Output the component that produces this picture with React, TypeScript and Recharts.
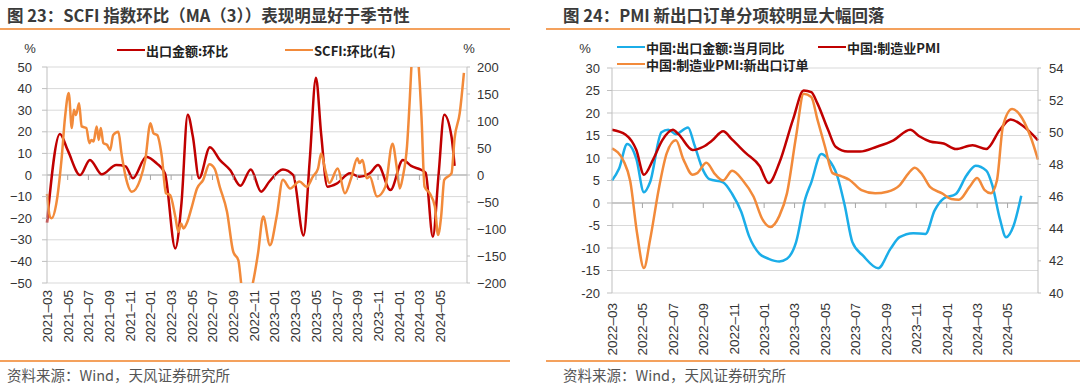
import React from "react";
import { CartesianGrid, Line, LineChart, ReferenceDot, ReferenceLine, XAxis, YAxis } from "recharts";

const RED = "#C00000";
const ORANGE = "#F28A3A";
const BLUE = "#1BADE8";
const RULE = "#F4A15D";
const GRID = "#D9D9D9";
const AXIS = "#BFBFBF";
const cjk = "'Noto Sans CJK SC', sans-serif";
const latin = "'Liberation Sans', Arial, sans-serif";

// ---- 图 23 (x = months since 2021-03) ----
const scfiTickLabels = [
  "2021-03", "2021-05", "2021-07", "2021-09", "2021-11", "2022-01", "2022-03", "2022-05",
  "2022-07", "2022-09", "2022-11", "2023-01", "2023-03", "2023-05", "2023-07", "2023-09",
  "2023-11", "2024-01", "2024-03", "2024-05",
];
const exportMomT = [
  0, 1.25, 2, 3.2, 4.15, 5.3, 6.7, 7.6, 8.3, 9.6, 10.6, 11.4, 12.4, 13, 13.6, 14.1, 14.7, 15.75,
  16.7, 17.7, 18.7, 19.7, 20.7, 21.5, 22.8, 23.8, 24.8, 25.4, 26, 26.5, 27.1, 28, 29.3, 30.2,
  31.2, 32, 33.2, 34.4, 35.2, 36.2, 36.6, 37.3, 37.85, 38.4, 39.1, 39.4,
];
const exportMom = [
  -22, 19, 11.5, 0, 7, 0.3, 4.6, 4, -1.5, 8.5, 5.4, 0.8, -34, -13, 27.9, 17.8, -1.5, 12.8,
  7, 2.3, -5, 2.6, -7.7, -3, 2.6, 0, -28, 7, 45, 19, -5.4, -4, 0.8, -0.8,
  0.8, 4.6, -7, 7, 4.2, 2.3, 1, -28.6, 0, 27.9, 17.8, 4.2,
];
const scfiMomT = [
  0, 0.3, 0.45, 0.9, 1.4, 1.75, 2.1, 2.4, 2.6, 2.8, 3.1, 3.35, 3.8, 4.1, 4.3, 4.5, 4.8, 5, 5.2,
  5.45, 5.8, 6.1, 6.4, 6.9, 7.2, 7.6, 8.2, 9, 9.5, 10, 10.3, 10.65, 11.1, 11.5, 11.9, 12.4, 12.7,
  12.95, 13.2, 13.5, 14, 14.5, 15.1, 15.7, 16.2, 16.7, 17.4, 18, 18.5, 18.8, 19.3, 19.9, 20.4,
  20.9, 21.55, 22.2, 22.8, 23.5, 24.4, 25.1, 25.7, 26.2, 26.5, 26.9, 27.3, 28.1, 28.8, 29.4, 30,
  30.2, 30.5, 30.9, 31.2, 31.9, 32.7, 33.4, 33.8, 34.1, 34.4, 34.8, 35.1, 35.25, 35.55, 35.9,
  36.2, 36.5, 37, 37.5, 37.8, 38.1, 38.4, 39.1, 39.4, 39.9, 40.3,
];
const scfiMom = [
  -35, -78, -80, -53, 28, 108, 152, 87, 121, 111, 133, 90, 87, 59, 65, 62, 90, 65, 87,
  59, 56, 46, 74, 80, 40, -3, -31, -9, 28, 96, 77, 74, 34, -34, -37, -77, -105,
  -90, -99, -90, -59, -25, -9, 20, 12, -22, -68, -142, -158, -205, -240, -200, -145,
  -77, -130, -77, -9, -25, -12, -22, -3, 12, 40, 9, -15, 12, -34, -6, 31,
  22, 28, -6, -3, -40, -22, 58, 15, -25, -3, 53, 152, 210, 270, 210,
  108, -22, -34, -59, -111, -77, -9, 3, 68, 115, 189,
];

// ---- 图 24 (x = months since 2022-03) ----
const pmiTickLabels = [
  "2022-03", "2022-05", "2022-07", "2022-09", "2022-11", "2023-01", "2023-03",
  "2023-05", "2023-07", "2023-09", "2023-11", "2024-01", "2024-03", "2024-05",
];
const exportYoyT = [
  0, 0.46, 1, 1.6, 2.1, 2.5, 3.25, 3.7, 4.2, 5, 5.4, 6, 6.4, 7.3, 7.9, 8.5, 9, 9.7, 10.3, 11,
  11.5, 12.1, 12.7, 13.1, 13.75, 14.2, 14.8, 15.3, 15.8, 16.5, 17.5, 18.3, 18.9, 19.8, 20.6,
  21.2, 21.8, 22.6, 23.3, 23.9, 24.6, 25, 25.5, 25.9, 26.4, 26.9,
];
const exportYoy = [
  5, 7.6, 13.1, 9.8, 2.4, 4.6, 15.7, 16.3, 15.3, 16.8, 13.1, 7.2, 5.3, 4.6, 2, -2, -7.3, -11.3, -12.4, -13,
  -12.4, -8.7, 0.9, 4.6, 10.9, 9.8, 6.1, -0.6, -8.7, -11.7, -14.5, -10.2, -7.6, -6.7, -6.9,
  -1.7, 1, 2, 6.1, 8.3, 7.2, 3.9, -3.6, -7.6, -5, 1.6,
];
const pmiT = [
  0, 0.9, 1.6, 2.1, 2.7, 3.3, 4, 4.4, 5.3, 6, 6.6, 7.3, 7.9, 8.8, 9.7, 10.3, 11, 11.9, 12.6,
  13.1, 13.5, 14.2, 14.7, 15.5, 16.3, 17.4, 18.5, 19.6, 20.2, 20.9, 21.8, 22.6, 23.7, 24.6,
  25.5, 26.2, 27, 28,
];
const pmi = [
  50.16, 49.85, 48.9, 47.36, 48.3, 49.5, 50.16, 49.85, 48.9, 49.1, 49.5, 50.06, 49.54, 48.7, 47.9, 46.84, 48.1, 50.8, 52.6,
  52.5, 51.8, 50.16, 49.1, 48.8, 48.8, 49.1, 49.5, 50.16, 49.75, 49.43, 49.3, 48.96, 49.2, 48.96,
  50.16, 50.8, 50.4, 49.5,
];
const newExportT = [
  0, 0.77, 1.2, 1.65, 2.1, 2.5, 3.1, 3.6, 4.2, 4.7, 5.3, 5.6, 6.2, 6.8, 7.3, 7.9, 8.6, 9.3, 9.9,
  10.4, 11, 11.5, 12.1, 12.6, 13.1, 13.5, 14, 14.5, 15.1, 15.6, 16.4, 17.3, 18.1, 18.9, 19.5,
  19.9, 20.4, 20.9, 21.7, 22.3, 22.8, 23.5, 24, 24.5, 24.9, 25.3, 25.7, 26.3, 26.8, 27.5, 28,
];
const newExport = [
  49, 48.2, 46.95, 43.7, 41.55, 43.3, 46.6, 48.7, 49.5, 48.3, 47.36, 47.46, 48.1, 47.36, 47, 47.6, 47, 46, 44.56,
  44.1, 44.8, 46.2, 49.75, 52.4, 52.2, 50.8, 49.1, 47.46, 47.26, 47.05, 46.4, 46.2, 46.3, 46.7, 47.46,
  47.8, 47.36, 46.6, 46.2, 45.85, 45.8, 46.6, 47.15, 46.4, 46.2, 47, 50.4, 51.45, 51.1, 49.75, 48.3,
];

const zip = (t: number[], v: number[]) => t.map((x, i) => ({ t: x, v: v[i] }));
const range = (a: number, b: number, s: number) => {
  const out: number[] = [];
  for (let x = a; x <= b + 1e-9; x += s) out.push(Math.round(x * 100) / 100);
  return out;
};

function MonthTick(props: any) {
  const { x, y, payload, labels } = props;
  const label: string = labels[Math.round(payload.value / 2)] ?? "";
  return (
    <text
      x={x}
      y={y}
      transform={`rotate(-90 ${x} ${y})`}
      textAnchor="end"
      dy="0.36em"
      fill="#333"
      fontSize={13.5}
      fontFamily={latin}
    >
      {label.replace("-", "–")}
    </text>
  );
}

const zeroTick = (p: any) => (
  <line x1={p.cx} y1={p.cy} x2={p.cx} y2={p.cy + 5} stroke="#A6A6A6" strokeWidth={1} />
);

function LegendItem({ x, y, color, text }: { x: number; y: number; color: string; text: string }) {
  return (
    <div style={{ position: "absolute", left: x, top: y - 10, height: 20, display: "flex", alignItems: "center" }}>
      <div style={{ width: 28, height: 2.5, background: color }} />
      <span style={{ fontFamily: cjk, fontSize: 13, fontWeight: 700, color: "#222", marginLeft: 1, whiteSpace: "nowrap" }}>
        {text}
      </span>
    </div>
  );
}

function Frame({ x, w, title }: { x: number; w: number; title: string }) {
  return (
    <>
      <div
        style={{
          position: "absolute", left: x + 7, top: 4, fontFamily: cjk, fontSize: 16.5,
          fontWeight: 700, color: "#3A3A3A", whiteSpace: "nowrap", lineHeight: "22px",
        }}
      >
        {title}
      </div>
      <div style={{ position: "absolute", left: x - 10, top: 28, width: w, height: 1.5, background: RULE }} />
      <div style={{ position: "absolute", left: x - 10, top: 360, width: w, height: 1.5, background: RULE }} />
      <div
        style={{
          position: "absolute", left: x + 7, top: 365, fontFamily: cjk, fontSize: 14.5,
          color: "#555", whiteSpace: "nowrap", lineHeight: "20px",
        }}
      >
        资料来源：Wind，天风证券研究所
      </div>
    </>
  );
}

const pct = (x: number, y: number) => (
  <div style={{ position: "absolute", left: x - 8, top: y - 9, width: 16, textAlign: "center", fontFamily: latin, fontSize: 13, color: "#333" }}>
    %
  </div>
);

export default function App() {
  const leftTicks = scfiTickLabels.map((_, i) => i * 2);
  const rightTicks = pmiTickLabels.map((_, i) => i * 2);
  const tickStyle = { fill: "#333", fontSize: 13, fontFamily: latin };

  return (
    <div style={{ position: "absolute", left: 0, top: 0, width: 1080, height: 386, background: "#fff", overflow: "hidden" }}>
      {/* chart 23 */}
      <Frame x={0} w={520} title="图 23：SCFI 指数环比（MA（3））表现明显好于季节性" />
      <div style={{ position: "absolute", left: 0, top: 0 }}>
        <LineChart width={540} height={360} margin={{ top: 67, right: 23, bottom: 17, left: 7 }}>
          <CartesianGrid vertical={false} yAxisId="l" stroke={GRID} />
          <XAxis
            type="number"
            dataKey="t"
            domain={[0, 40.6]}
            ticks={leftTicks}
            interval={0}
            axisLine={false}
            tickLine={false}
            tickSize={0}
            tickMargin={7}
            height={60}
            tick={(p: any) => <MonthTick {...p} labels={scfiTickLabels} />}
          />
          <YAxis
            yAxisId="l"
            domain={[-50, 50]}
            ticks={range(-50, 50, 10)}
            interval={0}
            width={40}
            tick={tickStyle}
            tickFormatter={(v: number) => String(v).replace("-", "−")}
            axisLine={{ stroke: AXIS }}
            tickLine={{ stroke: AXIS }}
            tickSize={5}
            tickMargin={10}
          />
          <YAxis
            yAxisId="r"
            orientation="right"
            domain={[-200, 200]}
            ticks={range(-200, 200, 50)}
            interval={0}
            allowDataOverflow
            width={50}
            tick={tickStyle}
            tickFormatter={(v: number) => String(v).replace("-", "−")}
            axisLine={{ stroke: AXIS }}
            tickLine={{ stroke: AXIS }}
            tickSize={3}
            tickMargin={7}
          />
          <ReferenceLine yAxisId="l" y={0} stroke="#A6A6A6" />
          {leftTicks.slice(1).map((t) => (
            <ReferenceDot key={t} yAxisId="l" x={t} y={0} r={0} shape={zeroTick} />
          ))}
          <Line
            yAxisId="l"
            data={zip(exportMomT, exportMom)}
            dataKey="v"
            type="monotone"
            stroke={RED}
            strokeWidth={2.5}
            dot={false}
            isAnimationActive={false}
          />
          <Line
            yAxisId="r"
            data={zip(scfiMomT, scfiMom)}
            dataKey="v"
            type="monotone"
            stroke={ORANGE}
            strokeWidth={2.5}
            dot={false}
            isAnimationActive={false}
          />
        </LineChart>
      </div>
      {pct(30, 50)}
      {pct(469, 50)}
      <LegendItem x={117} y={50} color={RED} text="出口金额:环比" />
      <LegendItem x={285} y={50} color={ORANGE} text="SCFI:环比(右)" />

      {/* chart 24 */}
      <Frame x={556} w={540} title="图 24：PMI 新出口订单分项较明显大幅回落" />
      <div style={{ position: "absolute", left: 540, top: 0 }}>
        <LineChart width={540} height={360} margin={{ top: 68, right: 2, bottom: 7, left: 32 }}>
          <CartesianGrid vertical={false} yAxisId="l" stroke={GRID} />
          <XAxis
            type="number"
            dataKey="t"
            domain={[0, 28]}
            ticks={rightTicks}
            interval={0}
            axisLine={false}
            tickLine={false}
            tickSize={0}
            tickMargin={10}
            height={60}
            tick={(p: any) => <MonthTick {...p} labels={pmiTickLabels} />}
          />
          <YAxis
            yAxisId="l"
            domain={[-20, 30]}
            ticks={range(-20, 30, 5)}
            interval={0}
            width={40}
            tick={tickStyle}
            axisLine={{ stroke: AXIS }}
            tickLine={{ stroke: AXIS }}
            tickSize={5}
            tickMargin={7}
          />
          <YAxis
            yAxisId="r"
            orientation="right"
            domain={[40, 54]}
            ticks={range(40, 54, 2)}
            interval={0}
            width={40}
            tick={tickStyle}
            axisLine={{ stroke: AXIS }}
            tickLine={{ stroke: AXIS }}
            tickSize={3}
            tickMargin={8}
          />
          <ReferenceLine yAxisId="l" y={0} stroke="#A6A6A6" />
          {rightTicks.slice(1).map((t) => (
            <ReferenceDot key={t} yAxisId="l" x={t} y={0} r={0} shape={zeroTick} />
          ))}
          <Line
            yAxisId="l"
            data={zip(exportYoyT, exportYoy)}
            dataKey="v"
            type="monotone"
            stroke={BLUE}
            strokeWidth={2.5}
            dot={false}
            isAnimationActive={false}
          />
          <Line
            yAxisId="r"
            data={zip(pmiT, pmi)}
            dataKey="v"
            type="monotone"
            stroke={RED}
            strokeWidth={2.5}
            dot={false}
            isAnimationActive={false}
          />
          <Line
            yAxisId="r"
            data={zip(newExportT, newExport)}
            dataKey="v"
            type="monotone"
            stroke={ORANGE}
            strokeWidth={2.5}
            dot={false}
            isAnimationActive={false}
          />
        </LineChart>
      </div>
      {pct(585, 50)}
      <LegendItem x={617} y={47} color={BLUE} text="中国:出口金额:当月同比" />
      <LegendItem x={818} y={47} color={RED} text="中国:制造业PMI" />
      <LegendItem x={617} y={64} color={ORANGE} text="中国:制造业PMI:新出口订单" />
    </div>
  );
}
